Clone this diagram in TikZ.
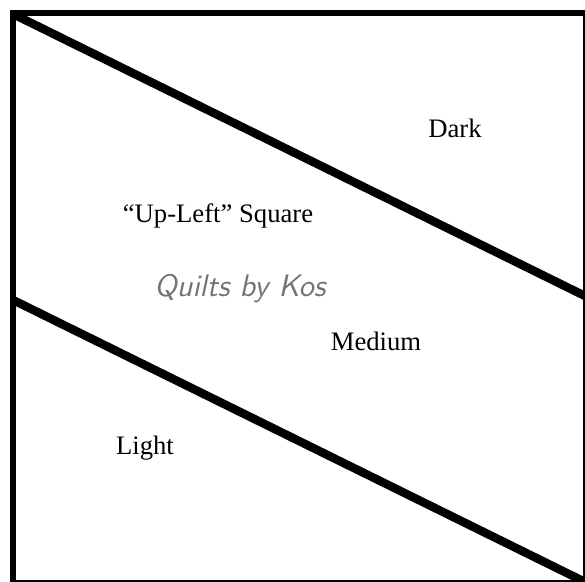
\documentclass[tikz,border=0pt]{standalone}
\usepackage{fontspec}
\setmainfont{Liberation Serif}
\begin{document}
\begin{tikzpicture}[x=0.45pt, y=-0.45pt, line join=miter, line cap=rect]
			\tikzset{frame/.style={line width=2.7pt, black},
				seam/.style={line width=3.8pt, black},
				patch/.style={font=\fontsize{12}{14}\selectfont},
				mark text/.style={font=\fontsize{14}{16}\selectfont\sffamily\itshape, text=black!55}}
			\useasboundingbox (0, 0) rectangle (585, 581);
			\fill[white] (0, 0) rectangle (585, 581);
			% outline of the block
			\draw[frame] (13, 13.5) rectangle (586, 583);
			% the two seams
			\coordinate (tl) at (15, 15);
			\coordinate (tr) at (585, 296);
			\coordinate (ml) at (13, 300);
			\coordinate (br) at (583, 581);
			\draw[seam, line cap=butt] (tl) -- (tr);
			\draw[seam, line cap=butt] (ml) -- (br);
			% labels
			\node[patch] (dark) at (455, 128) {Dark};
			\node[patch] (upleft) at (218, 216) {“Up-Left” Square};
			\node[mark text] (kos) at (240, 289) {Quilts by Kos};
			\node[patch] (medium) at (376, 341) {Medium};
			\node[patch] (light) at (145, 448) {Light};
		\end{tikzpicture}
\end{document}
